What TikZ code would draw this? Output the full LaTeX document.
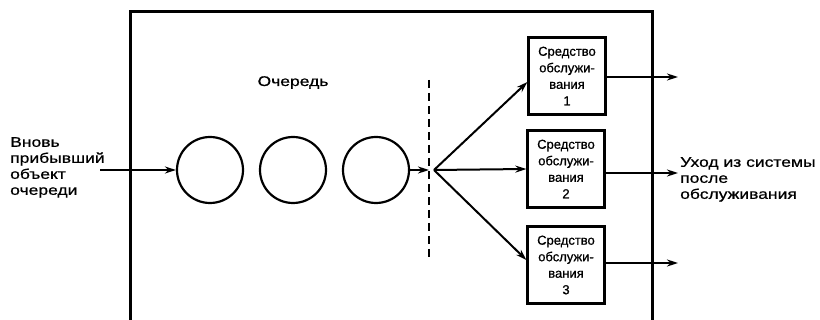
\documentclass[tikz,border=0pt]{standalone}
\usepackage{fontspec}
\setmainfont{Liberation Sans}
\newfontfamily\widefont[FakeStretch=1.25,FakeBold=0.8]{Liberation Sans}
\newfontfamily\boxfont[FakeBold=0.8]{Liberation Sans}
\usetikzlibrary{arrows.meta}
\begin{document}
\begin{tikzpicture}[x=1pt,y=-1pt,
  frame/.style={line width=3pt},
  queuecircle/.style={circle,draw,line width=2.2pt,minimum size=66pt,inner sep=0pt},
  server/.style={draw,line width=2.2pt,minimum width=77pt,minimum height=77pt,inner sep=0pt,align=center,font=\boxfont\fontsize{13}{16.5}\selectfont},
  arr/.style={line width=2pt,-{Stealth[length=11pt,width=7pt]}},
  lbl/.style={inner sep=0pt,align=left,font=\widefont\fontsize{14}{16}\selectfont},
  divider/.style={line width=2.4pt,dash pattern=on 8pt off 5pt}
]
\useasboundingbox (0,0) rectangle (820,320);
% frame (open at bottom)
\draw[frame] (130,320) -- (130,12) -- (652,12) -- (652,320);
% queue label
\node[lbl,anchor=base] (qlabel) at (293,86) {Очередь};
% circles
\node[queuecircle] (c1) at (210,170) {};
\node[queuecircle] (c2) at (293,170) {};
\node[queuecircle] (c3) at (376,170) {};
% divider
\coordinate (dtop) at (429,80);
\coordinate (dbot) at (429,260);
\draw[divider] (dtop) -- (dbot);
\coordinate (dmid) at (429,170);
\coordinate (j) at (434,170);
% servers
\node[server] (s1) at (567,76) {Средство\\обслужи-\\вания\\1};
\node[server] (s2) at (566,169) {Средство\\обслужи-\\вания\\2};
\node[server] (s3) at (566,265) {Средство\\обслужи-\\вания\\3};
% incoming
\coordinate (inp) at (100,170);
\node[lbl,anchor=north west] (arrive) at (10,137) {Вновь\\прибывший\\объект\\очереди};
\draw[arr] (inp) -- (c1.west);
\draw[arr] (c3.east) -- (dmid);
% fan out
\draw[arr] (j) -- ([yshift=-6pt]s1.west);
\draw[arr] (j) -- (s2.west);
\draw[arr] (j) -- ([yshift=5pt]s3.west);
% outgoing
\coordinate (o1) at (678,77);
\coordinate (o2) at (678,173);
\coordinate (o3) at (678,263);
\draw[arr] (s1.east |- o1) -- (o1);
\draw[arr] (s2.east |- o2) -- (o2);
\draw[arr] (s3.east |- o3) -- (o3);
\node[lbl,anchor=north west] (leave) at (680,157) {Уход из системы\\после\\обслуживания};
\end{tikzpicture}
\end{document}
